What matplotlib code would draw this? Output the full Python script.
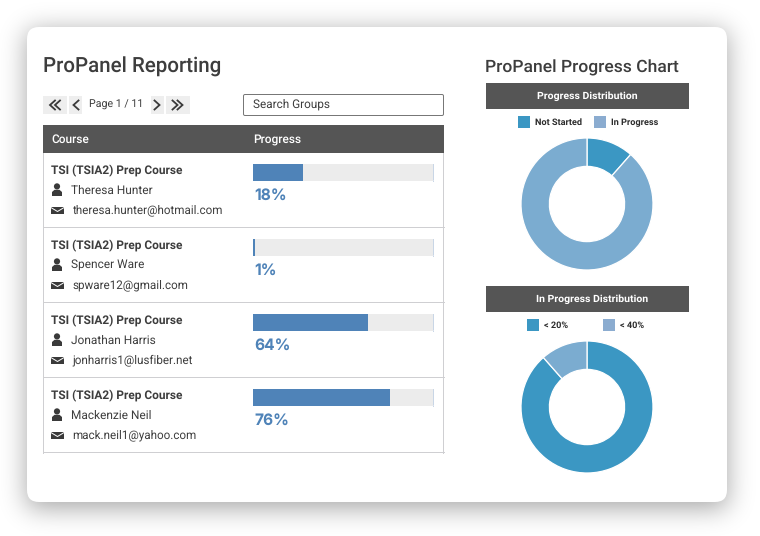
import numpy as np
import matplotlib
matplotlib.use("Agg")
import matplotlib.pyplot as plt
from matplotlib.patches import FancyBboxPatch, Rectangle, Circle, Polygon
from matplotlib.lines import Line2D

plt.rcParams['font.family'] = ['Roboto', 'Inter', 'DejaVu Sans']
plt.rcParams['text.hinting'] = 'no_hinting'
plt.rcParams['text.hinting_factor'] = 8

# ---- data ----
courses = ["TSI (TSIA2) Prep Course"] * 4
names = ["Theresa Hunter", "Spencer Ware", "Jonathan Harris", "Mackenzie Neil"]
emails = ["theresa.hunter@hotmail.com", "spware12@gmail.com",
          "jonharris1@lusfiber.net", "mack.neil1@yahoo.com"]
progress = [28, 1, 64, 76]
progress_labels = ["18%", "1%", "64%", "76%"]
dist1_labels = ["Not Started", "In Progress"]
dist1_values = [11.5, 88.5]
dist2_labels = ["< 20%", "< 40%"]
dist2_values = [88.5, 11.5]

W, H = 760, 536
DARK = "#555555"
TXT = "#3d3d3d"
BLUE = "#4f83b8"
C1 = "#3b97c3"
C2 = "#7bacd0"
C2L = "#8bacd0"
LINE = "#cfcfd2"
PX = 0.72

fig = plt.figure(figsize=(W / 100, H / 100), dpi=100, facecolor="white")
ui = fig.add_axes([0, 0, 1, 1])
ui.axis("off")


def axes_px(x0, y0, x1, y1):
    return fig.add_axes([x0 / W, 1 - y1 / H, (x1 - x0) / W, (y1 - y0) / H])


# soft card shadow: blurred rounded-rectangle mask, offset downward
yy, xx = np.mgrid[0:H, 0:W]
sx0, sx1, sy0, sy1 = 27, 727, 31, 508
inside = ((xx >= sx0) & (xx < sx1) & (yy >= sy0) & (yy < sy1)).astype(float)
sigma = 13
rad = 40
kern = np.exp(-0.5 * (np.arange(-rad, rad + 1) / sigma) ** 2)
kern /= kern.sum()
blur = np.apply_along_axis(lambda r: np.convolve(r, kern, mode="same"), 0, inside)
blur = np.apply_along_axis(lambda r: np.convolve(r, kern, mode="same"), 1, blur)
shade = np.ones((H, W, 4))
shade[..., :3] = 0.0
shade[..., 3] = blur * 0.36
ui.imshow(shade, extent=(0, W, H, 0), interpolation="nearest", zorder=0)
ui.set_xlim(0, W)
ui.set_ylim(H, 0)
ui.set_aspect("auto")

ui.add_patch(FancyBboxPatch((27, 27), 700, 475, boxstyle="round,pad=0,rounding_size=12",
                            fc="white", ec="none", zorder=1))

ui.text(43, 73, "ProPanel Reporting", fontsize=14.8, fontweight=500, color=TXT, va="baseline")
ui.text(485, 72.5, "ProPanel Progress Chart", fontsize=12.6, fontweight=500, color=TXT, va="baseline")

# pager
for x0, x1 in [(43, 67), (69, 82), (151, 164), (166, 190)]:
    ui.add_patch(Rectangle((x0, 96), x1 - x0, 18, fc="#eeeeee", ec="none"))


def chevron(cx, cy, d, col="#3a3a3a"):
    ui.add_line(Line2D([cx - d * 2.5, cx + d * 2.5, cx - d * 2.5], [cy - 4.5, cy, cy + 4.5],
                       color=col, lw=1.3, solid_joinstyle="miter"))


for cx in (52.5, 57.5):
    chevron(cx, 105, -1)
chevron(76, 105, -1)
chevron(157, 105, 1)
for cx in (175, 180):
    chevron(cx, 105, 1)
ui.text(89, 107.5, "Page 1 / 11", fontsize=7.7, color=TXT, va="baseline")

# search box
ui.add_patch(FancyBboxPatch((243.5, 94.5), 200, 21, boxstyle="round,pad=0,rounding_size=1.5",
                            fc="white", ec="#777777", lw=PX))
ui.text(253, 107.5, "Search Groups", fontsize=8.5, color=TXT, va="baseline")

# table
ui.add_patch(Rectangle((43, 125), 401, 28, fc=DARK, ec="none"))
ui.text(51, 143, "Course", fontsize=8.6, fontweight=500, color="white", va="baseline")
ui.text(253.5, 143, "Progress", fontsize=8.6, fontweight=500, color="white", va="baseline")
row_h = 75
top = 153
ui.add_line(Line2D([43, 43], [153, 453], color=LINE, lw=PX))
ui.add_line(Line2D([443, 443], [153, 453], color=LINE, lw=PX))


def person(cx, cy):
    ui.add_patch(Circle((cx, cy - 3.6), 3.1, fc="#3a3a3a", ec="none"))
    ui.add_patch(Polygon([(cx - 5, cy + 6), (cx - 5, cy + 2), (cx - 2.5, cy - 0.2),
                          (cx + 2.5, cy - 0.2), (cx + 5, cy + 2), (cx + 5, cy + 6)],
                         closed=True, fc="#3a3a3a", ec="none"))


def envelope(cx, cy):
    ui.add_patch(Rectangle((cx - 6.3, cy - 3.8), 12.6, 7.6, fc="#3a3a3a", ec="none"))
    ui.add_line(Line2D([cx - 6.3, cx, cx + 6.3], [cy - 2.8, cy + 1, cy - 2.8], color="white", lw=0.7))


for i, (c, n, e, p, lab) in enumerate(zip(courses, names, emails, progress, progress_labels)):
    y = top + i * row_h
    ui.add_line(Line2D([43, 444], [y + row_h - 1, y + row_h - 1], color=LINE, lw=PX))
    ui.text(51, y + 21, c, fontsize=8.6, fontweight=700, color=TXT, va="baseline")
    person(57, y + 37)
    ui.text(71, y + 41, n, fontsize=8.6, color=TXT, va="baseline")
    envelope(57.5, y + 57.5)
    ui.text(72.5, y + 60.8, e, fontsize=8.4, color=TXT, va="baseline")
    ax = axes_px(253, y + 11, 433, y + 28)
    ax.barh([0], [100], height=1, color="#ececec", edgecolor="none")
    ax.barh([0], [p], height=1, color=BLUE, edgecolor="none")
    ax.set_xlim(0, 100)
    ax.set_ylim(-0.5, 0.5)
    ax.axis("off")
    ui.add_line(Line2D([433, 433], [y + 11, y + 28], color="#c9d6e6", lw=PX))
    ui.add_line(Line2D([253, 433], [y + 27, y + 27], color="#dbe3ee", lw=PX))
    ui.text(254, y + 46.7, lab, fontsize=11.2, fontweight=700, color=BLUE, va="baseline",
            family=['Inter', 'DejaVu Sans'])


def panel(y0, y1, title, cx, base):
    ui.add_patch(Rectangle((486, y0), 202.5, y1 - y0, fc=DARK, ec="none"))
    ui.text(cx, base, title, fontsize=7.55, fontweight=700, color="white",
            ha="center", va="baseline")


def legend(items):
    for x_sw, x_tx, y, label in items:
        ui.add_patch(Rectangle((x_sw[0], y - 6), 11.5, 11.5, fc=x_sw[1], ec="none"))
        ui.text(x_tx, y + 2.7, label, fontsize=6.6, fontweight=700, color="#2c2c2c", va="baseline")


def donut(cx, cy, r, values, colors):
    ax = axes_px(cx - r, cy - r, cx + r, cy + r)
    ax.pie(values, colors=colors, startangle=90, counterclock=False, radius=1,
           wedgeprops=dict(width=0.43, edgecolor="white", linewidth=0.9))
    ax.set_xlim(-1, 1)
    ax.set_ylim(-1, 1)
    ax.set_aspect("equal")


panel(83, 108.5, "Progress Distribution", 587, 98.8)
legend([((518, C1), 535, 122, dist1_labels[0]), ((594, C2L), 611, 122, dist1_labels[1])])
donut(587, 204, 66, dist1_values, [C1, C2])

panel(286, 311.5, "In Progress Distribution", 592, 302)
legend([((527, C1), 544, 325, dist2_labels[0]), ((603, C2L), 620, 325, dist2_labels[1])])
donut(587, 407, 66, dist2_values, [C1, C2])

fig.savefig("out.png", dpi=100)
